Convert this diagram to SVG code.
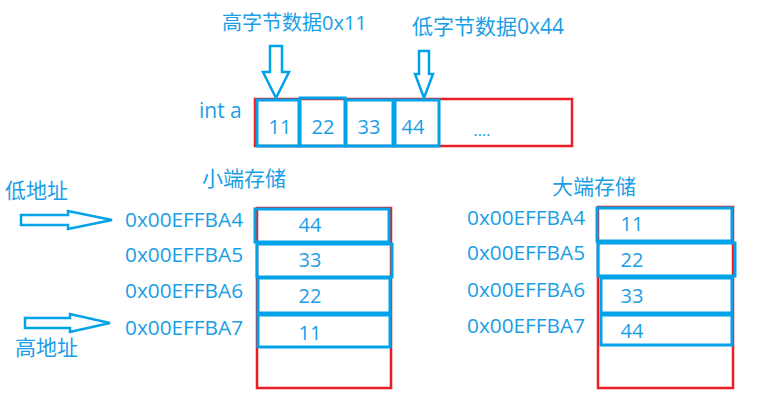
<svg xmlns="http://www.w3.org/2000/svg" width="765" height="405" viewBox="0 0 765 405">
<style>
text{font-family:"Open Sans","Noto Sans CJK SC",sans-serif;fill:#1a9ee6;}
.t{font-size:20px;}
.c{font-size:21px;}
.a{font-size:20.8px;}
.v{font-size:20px;text-anchor:middle;}
.red{fill:none;stroke:#ed1c24;stroke-width:2.5;}
.blue{fill:none;stroke:#00a2e8;stroke-width:3;}
.arr{fill:#fff;stroke:#00a2e8;stroke-width:2.5;stroke-linejoin:miter;}
</style>
<rect width="765" height="405" fill="#fff"/>
<g id="labels">
<text class="t" x="222" y="30">高字节数据0x11</text>
<text class="c" x="412" y="34">低字节数据0x44</text>
<text class="c" x="199" y="118">int a</text>
<text class="c" x="202" y="186">小端存储</text>
<text class="c" x="552" y="194">大端存储</text>
<text class="c" x="5" y="198">低地址</text>
<text class="c" x="15" y="355">高地址</text>
</g>
<g id="int-a">
<rect class="red" x="255" y="99" width="317" height="47"/>
<rect class="blue" x="257" y="100" width="42" height="46"/>
<rect class="blue" x="300" y="98" width="45" height="48"/>
<rect class="blue" x="346" y="100" width="47" height="46"/>
<rect class="blue" x="395" y="100" width="44" height="46"/>
<text class="v" x="280" y="134">11</text>
<text class="v" x="323" y="134">22</text>
<text class="v" x="369" y="134">33</text>
<text class="v" x="413" y="134">44</text>
<text class="v" x="482" y="136" style="font-size:16px">....</text>
</g>
<g id="little-endian">
<rect class="red" x="257" y="208" width="134" height="180"/>
<rect class="blue" x="255" y="209" width="134" height="33"/>
<rect class="blue" x="257" y="244" width="135" height="33"/>
<rect class="blue" x="258" y="278" width="132" height="35"/>
<rect class="blue" x="258" y="315" width="132" height="32"/>
<text class="a" x="125" y="227">0x00EFFBA4</text>
<text class="a" x="125" y="262">0x00EFFBA5</text>
<text class="a" x="125" y="298">0x00EFFBA6</text>
<text class="a" x="125" y="335">0x00EFFBA7</text>
<text class="v" x="310" y="232">44</text>
<text class="v" x="310" y="267">33</text>
<text class="v" x="310" y="303">22</text>
<text class="v" x="310" y="340">11</text>
</g>
<g id="big-endian">
<rect class="red" x="598" y="207" width="135" height="181"/>
<rect class="blue" x="597" y="208" width="135" height="33"/>
<rect class="blue" x="598" y="243" width="137" height="33"/>
<rect class="blue" x="601" y="278" width="131" height="35"/>
<rect class="blue" x="601" y="315" width="131" height="30"/>
<text class="a" x="467" y="225">0x00EFFBA4</text>
<text class="a" x="467" y="260">0x00EFFBA5</text>
<text class="a" x="467" y="297">0x00EFFBA6</text>
<text class="a" x="467" y="333">0x00EFFBA7</text>
<text class="v" x="632" y="231">11</text>
<text class="v" x="632" y="267">22</text>
<text class="v" x="632" y="303">33</text>
<text class="v" x="632" y="338">44</text>
</g>
<g id="connectors">
<polygon class="arr" points="270,46 282,46 282,72 289,72 276,98 263,72 270,72"/>
<polygon class="arr" points="419,51 429,51 429,74 433,74 424,98 415,74 419,74"/>
<polygon class="arr" points="21,215 68,215 68,211 112,220 68,229 68,225 21,225"/>
<polygon class="arr" points="25,318 70,318 70,314 110,323 70,332 70,328 25,328"/>
</g>
</svg>
